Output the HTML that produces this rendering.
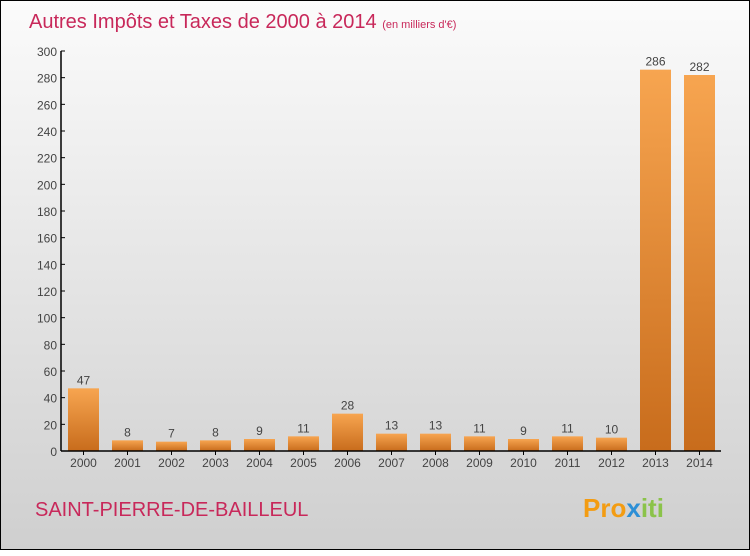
<!DOCTYPE html>
<html><head><meta charset="utf-8"><style>
body{margin:0;width:750px;height:550px;overflow:hidden}
#c{position:absolute;left:0;top:0;width:748px;height:548px;border:1px solid #000;background:linear-gradient(#fbfbfb,#cfcfcf)}
svg text{font-family:"Liberation Sans",sans-serif}
</style></head><body>
<div id="c">
<svg id="s" width="750" height="550">
<defs><linearGradient id="g" x1="0" y1="0" x2="0" y2="1"><stop offset="0" stop-color="#f7a550"/><stop offset="1" stop-color="#c86c1c"/></linearGradient></defs>
<text x="28" y="27" font-size="20" fill="#c8285a">Autres Impôts et Taxes de 2000 à 2014 <tspan font-size="11">(en milliers d'€)</tspan></text>
<text x="34" y="515" font-size="20" fill="#c8285a">SAINT-PIERRE-DE-BAILLEUL</text>
<text x="582" y="516" font-size="26" font-weight="bold"><tspan fill="#f39c12">Pro</tspan><tspan fill="#2c8fd6">x</tspan><tspan fill="#8bc34a">iti</tspan></text>
</svg></div>
<script>
const years=["2000","2001","2002","2003","2004","2005","2006","2007","2008","2009","2010","2011","2012","2013","2014"];
const values=[47,8,7,8,9,11,28,13,13,11,9,11,10,286,282];
const yTicks=[0,20,40,60,80,100,120,140,160,180,200,220,240,260,280,300];
const s=document.getElementById('s'),NS="http://www.w3.org/2000/svg";
const y=v=>450-v*400/300, x=i=>82.5+i*44;
function mk(t,a,txt){const e=document.createElementNS(NS,t);for(const k in a)e.setAttribute(k,a[k]);if(txt!==undefined)e.textContent=txt;s.appendChild(e);return e;}
yTicks.forEach(v=>{
const t=mk('text',{x:56,y:y(v)+5,'text-anchor':'end','font-size':12,fill:'#444'},v);


const l=mk('line',{x1:60,x2:64,y1:y(v),y2:y(v),stroke:'#000'});


});
values.forEach((v,i)=>{
const r=mk('rect',{x:x(i)-15.5,y:y(v),width:31,height:450-y(v),fill:'url(#g)'});


const t=mk('text',{x:x(i),y:y(v)-4,'text-anchor':'middle','font-size':12,fill:'#444'},v);


const xl=mk('text',{x:x(i),y:466,'text-anchor':'middle','font-size':12,fill:'#444'},years[i]);


const tk=mk('line',{x1:x(i),x2:x(i),y1:450,y2:454,stroke:'#000'});


});
const ya=mk('line',{x1:60,x2:60,y1:50,y2:450,stroke:'#000','stroke-width':1.5});


const xa=mk('line',{x1:60,x2:720,y1:450,y2:450,stroke:'#000','stroke-width':1.5});


</script>
</body></html>
